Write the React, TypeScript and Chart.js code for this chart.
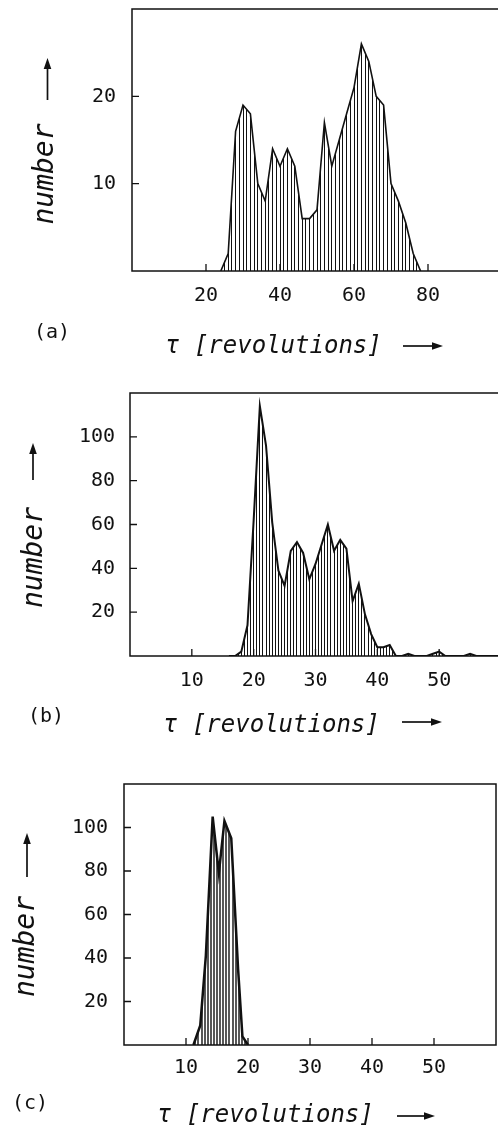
import React, { useEffect, useRef } from "react";
import { Chart, registerables } from "chart.js";

Chart.register(...registerables);

// ---------- Panel (a) ----------
const tauA = [24, 26, 28, 30, 32, 34, 36, 38, 40, 42, 44, 46, 48, 50, 52, 54, 56, 58, 60, 62, 64, 66, 68, 70, 72, 74, 76, 78];
const numberA = [0, 2, 16, 19, 18, 10, 8, 14, 12, 14, 12, 6, 6, 7, 17, 12, 15, 18, 21, 26, 24, 20, 19, 10, 8, 5.5, 2, 0];
const xTickLabelsA = [20, 40, 60, 80];
const yTickLabelsA = [10, 20];

// ---------- Panel (b) ----------
const tauB = [16, 17, 18, 19, 20, 21, 22, 23, 24, 25, 26, 27, 28, 29, 30, 31, 32, 33, 34, 35, 36, 37, 38, 39, 40, 41, 42, 43, 44, 45, 46, 47, 48, 49, 50, 51, 52, 53, 54, 55, 56, 57, 58, 59, 60];
const numberB = [0, 0, 2, 14, 62, 114, 96, 61, 39, 32, 48, 52, 47, 35, 42, 51, 60, 48, 53, 49, 25, 33, 19, 10, 4, 4, 5, 0, 0, 1, 0, 0, 0, 1, 2, 0, 0, 0, 0, 1, 0, 0, 0, 0, 0];
const xTickLabelsB = [10, 20, 30, 40, 50];
const yTickLabelsB = [20, 40, 60, 80, 100];

// ---------- Panel (c) ----------
const tauC = [11.2, 12.3, 13.2, 14.3, 15.3, 16.2, 17.3, 18.4, 19.1, 20.0];
const numberC = [0, 9, 41, 105, 79, 103, 95, 35, 4, 0];
const xTickLabelsC = [10, 20, 30, 40, 50];
const yTickLabelsC = [20, 40, 60, 80, 100];

const panelLetters = ["(a)", "(b)", "(c)"];
const xTitleText = "τ [revolutions]";
const yTitleText = "number";

const MONO = '"DejaVu Sans Mono", monospace';
const INK = "#111111";
const CANVAS_W = 512;

type Layout = {
  canvasTop: number; canvasH: number;
  left: number; right: number; top: number; bottom: number;
  xMax: number; yMax: number;
  yTickPad: number; xTickPad: number;
  letterX: number; letterY: number;
  titleX: number; titleY: number;
  arrowX1: number; arrowX2: number; arrowY: number;
  yTitleX: number; yTitleY: number;
  yArrowX: number; yArrowTail: number; yArrowTip: number;
  hatchStart: number; hatchEnd: number; hatchStep: number; hatchWidth: number;
  lineWidth: number;
};

const layouts: Layout[] = [
  {
    canvasTop: -20, canvasH: 400, left: 132, right: 502, top: 9, bottom: 271,
    xMax: 100, yMax: 30, yTickPad: 16, xTickPad: 13,
    letterX: 34, letterY: 333, titleX: 165, titleY: 353, arrowX1: 403, arrowX2: 443, arrowY: 346,
    yTitleX: 46, yTitleY: 174, yArrowX: 47.5, yArrowTail: 100, yArrowTip: 58,
    hatchStart: 24, hatchEnd: 78, hatchStep: 1, hatchWidth: 1, lineWidth: 1.6,
  },
  {
    canvasTop: 360, canvasH: 395, left: 130, right: 501, top: 393, bottom: 656,
    xMax: 60, yMax: 120, yTickPad: 15, xTickPad: 13,
    letterX: 28, letterY: 716.5, titleX: 163, titleY: 732, arrowX1: 402, arrowX2: 442, arrowY: 722,
    yTitleX: 34.5, yTitleY: 557.5, yArrowX: 33, yArrowTail: 480, yArrowTip: 443,
    hatchStart: 17, hatchEnd: 57, hatchStep: 0.5, hatchWidth: 1, lineWidth: 2,
  },
  {
    canvasTop: 750, canvasH: 376, left: 124, right: 496, top: 784, bottom: 1045,
    xMax: 60, yMax: 120, yTickPad: 16, xTickPad: 11,
    letterX: 12, letterY: 1104, titleX: 157, titleY: 1122, arrowX1: 397, arrowX2: 435, arrowY: 1116,
    yTitleX: 27, yTitleY: 946.5, yArrowX: 27, yArrowTail: 877, yArrowTip: 833,
    hatchStart: 11, hatchEnd: 20, hatchStep: 0.5, hatchWidth: 1.4, lineWidth: 2.5,
  },
];

const series = [
  { tau: tauA, counts: numberA, xTicks: xTickLabelsA, yTicks: yTickLabelsA },
  { tau: tauB, counts: numberB, xTicks: xTickLabelsB, yTicks: yTickLabelsB },
  { tau: tauC, counts: numberC, xTicks: xTickLabelsC, yTicks: yTickLabelsC },
];

function drawArrow(ctx: CanvasRenderingContext2D, x1: number, y1: number, x2: number, y2: number) {
  const head = 11;
  const half = 3.8;
  const dx = x2 - x1;
  const dy = y2 - y1;
  const len = Math.hypot(dx, dy);
  const ux = dx / len;
  const uy = dy / len;
  const bx = x2 - ux * head;
  const by = y2 - uy * head;
  ctx.beginPath();
  ctx.moveTo(x1, y1);
  ctx.lineTo(bx, by);
  ctx.lineWidth = 1.7;
  ctx.stroke();
  ctx.beginPath();
  ctx.moveTo(x2, y2);
  ctx.lineTo(bx - uy * half, by + ux * half);
  ctx.lineTo(bx + uy * half, by - ux * half);
  ctx.closePath();
  ctx.fill();
}

function makeFigurePlugin(L: Layout, letter: string) {
  const off = L.canvasTop;
  return {
    id: "figure",
    beforeDatasetsDraw(chart: any) {
      const ctx: CanvasRenderingContext2D = chart.ctx;
      const xs = chart.scales.x;
      const ys = chart.scales.y;
      const pts = chart.getDatasetMeta(0).data;
      if (!pts.length) return;
      const base = ys.getPixelForValue(0);
      ctx.save();
      ctx.beginPath();
      ctx.moveTo(pts[0].x, base);
      for (const p of pts) ctx.lineTo(p.x, p.y);
      ctx.lineTo(pts[pts.length - 1].x, base);
      ctx.closePath();
      ctx.clip();
      ctx.beginPath();
      ctx.strokeStyle = INK;
      ctx.lineWidth = L.hatchWidth;
      for (let v = L.hatchStart; v <= L.hatchEnd + 1e-9; v += L.hatchStep) {
        let px = xs.getPixelForValue(v);
        px = L.hatchWidth === 1 ? Math.round(px - 0.5) + 0.5 : Math.round(px);
        ctx.moveTo(px, base);
        ctx.lineTo(px, chart.chartArea.top);
      }
      ctx.stroke();
      ctx.restore();
    },
    afterDatasetsDraw(chart: any) {
      const ctx: CanvasRenderingContext2D = chart.ctx;
      const { left, right, top, bottom } = chart.chartArea;
      ctx.save();
      ctx.strokeStyle = INK;
      ctx.lineWidth = 1.5;
      ctx.strokeRect(left, top, right - left, bottom - top);
      ctx.lineWidth = 1.3;
      ctx.beginPath();
      for (const t of chart.scales.x.ticks) {
        const px = chart.scales.x.getPixelForValue(t.value);
        ctx.moveTo(px, bottom);
        ctx.lineTo(px, bottom - 7);
      }
      for (const t of chart.scales.y.ticks) {
        const py = chart.scales.y.getPixelForValue(t.value);
        ctx.moveTo(left, py);
        ctx.lineTo(left + 7, py);
      }
      ctx.stroke();
      ctx.restore();
    },
    afterDraw(chart: any) {
      const ctx: CanvasRenderingContext2D = chart.ctx;
      ctx.save();
      ctx.fillStyle = INK;
      ctx.strokeStyle = INK;
      // panel letter
      ctx.font = `20px ${MONO}`;
      ctx.textAlign = "left";
      ctx.textBaseline = "middle";
      ctx.fillText(letter, L.letterX, L.letterY - off);
      // x title
      ctx.font = `italic 24px ${MONO}`;
      ctx.textBaseline = "alphabetic";
      ctx.fillText(xTitleText, L.titleX, L.titleY - off);
      drawArrow(ctx, L.arrowX1, L.arrowY - off, L.arrowX2, L.arrowY - off);
      // y title
      ctx.save();
      ctx.translate(L.yTitleX, L.yTitleY - off);
      ctx.rotate(-Math.PI / 2);
      ctx.font = `italic 28px ${MONO}`;
      ctx.textAlign = "center";
      ctx.textBaseline = "middle";
      ctx.fillText(yTitleText, 0, 0);
      ctx.restore();
      drawArrow(ctx, L.yArrowX, L.yArrowTail - off, L.yArrowX, L.yArrowTip - off);
      ctx.restore();
    },
  };
}

function Panel({ index }: { index: number }) {
  const ref = useRef<HTMLCanvasElement>(null);
  const L = layouts[index];
  useEffect(() => {
    const s = series[index];
    const off = L.canvasTop;
    const chart = new Chart(ref.current as HTMLCanvasElement, {
      type: "line",
      data: {
        datasets: [
          {
            data: s.tau.map((x, i) => ({ x, y: s.counts[i] })),
            borderColor: INK,
            borderWidth: L.lineWidth,
            pointRadius: 0,
            tension: 0,
            fill: false,
          } as any,
        ],
      },
      options: {
        responsive: false,
        animation: false,
        events: [],
        layout: { padding: { top: L.top - off, left: 0, right: CANVAS_W - L.right, bottom: 0 } },
        plugins: { legend: { display: false }, tooltip: { enabled: false }, title: { display: false } },
        scales: {
          x: {
            type: "linear",
            min: 0,
            max: L.xMax,
            grid: { display: false, drawTicks: false },
            border: { display: false },
            afterBuildTicks: (sc: any) => {
              sc.ticks = s.xTicks.map((v) => ({ value: v }));
            },
            afterFit: (sc: any) => {
              sc.height = L.canvasH - (L.bottom - off);
              sc.paddingLeft = 0;
              sc.paddingRight = 0;
            },
            ticks: {
              font: { family: MONO, size: 20 },
              color: INK,
              padding: L.xTickPad,
              maxRotation: 0,
              autoSkip: false,
            },
          },
          y: {
            type: "linear",
            min: 0,
            max: L.yMax,
            grid: { display: false, drawTicks: false },
            border: { display: false },
            afterBuildTicks: (sc: any) => {
              sc.ticks = s.yTicks.map((v) => ({ value: v }));
            },
            afterFit: (sc: any) => {
              sc.width = L.left;
              sc.paddingTop = 0;
              sc.paddingBottom = 0;
            },
            ticks: {
              font: { family: MONO, size: 20 },
              color: INK,
              padding: L.yTickPad,
              autoSkip: false,
            },
          },
        },
      } as any,
      plugins: [makeFigurePlugin(L, panelLetters[index]) as any],
    });
    return () => chart.destroy();
  }, []);
  return (
    <canvas
      ref={ref}
      width={CANVAS_W}
      height={L.canvasH}
      style={{ position: "absolute", left: 0, top: L.canvasTop, width: CANVAS_W, height: L.canvasH }}
    />
  );
}

export default function App() {
  return (
    <div
      style={{
        position: "absolute",
        left: 0,
        top: 0,
        width: 498,
        height: 1126,
        overflow: "hidden",
        background: "#ffffff",
      }}
    >
      <Panel index={0} />
      <Panel index={1} />
      <Panel index={2} />
    </div>
  );
}
